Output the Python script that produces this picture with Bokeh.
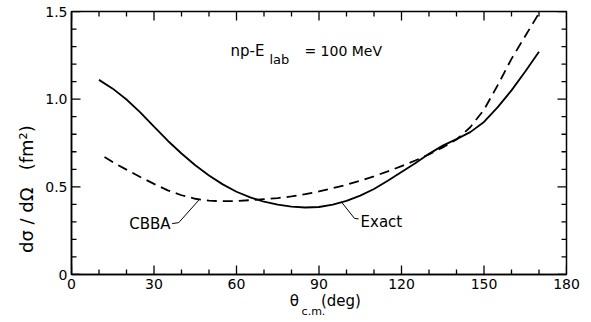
from bokeh.plotting import figure
from bokeh.models import Range1d, LinearAxis, FixedTicker, Label
from bokeh.embed import file_html
from bokeh.resources import INLINE

# ---- data ----
exact_theta = [10, 15, 20, 25, 30, 35, 40, 45, 50, 55, 60, 65, 70, 75, 80, 85, 90, 95, 100,
               105, 110, 115, 120, 125, 130, 135, 140, 145, 150, 155, 160, 165, 170]
exact_xs = [1.11, 1.06, 0.998, 0.925, 0.843, 0.763, 0.69, 0.623, 0.565, 0.514, 0.472, 0.44, 0.415,
            0.398, 0.387, 0.382, 0.385, 0.398, 0.42, 0.45, 0.488, 0.535, 0.585, 0.635, 0.688,
            0.735, 0.772, 0.812, 0.87, 0.955, 1.05, 1.158, 1.27]

cbba_theta = [12, 16, 20, 25, 30, 35, 40, 45, 50, 55, 60, 65, 70, 75, 80, 85, 90, 95, 100,
              105, 110, 115, 120, 125, 130, 135, 140, 145, 150, 155, 160, 165, 170]
cbba_xs = [0.67, 0.632, 0.598, 0.556, 0.517, 0.48, 0.452, 0.432, 0.421, 0.418, 0.419, 0.424, 0.43,
           0.436, 0.445, 0.458, 0.474, 0.492, 0.512, 0.535, 0.56, 0.588, 0.618, 0.65, 0.685, 0.725,
           0.77, 0.84, 0.94, 1.08, 1.23, 1.36, 1.49]

x_ticks = [0, 30, 60, 90, 120, 150, 180]
y_ticks = [0, 0.5, 1.0, 1.5]
y_tick_labels = ["0", "0.5", "1.0", "1.5"]

# leader lines for labels (annotation positions)
cbba_leader_x = [36.6, 39.0, 46.3]
cbba_leader_y = [0.29, 0.296, 0.424]
exact_leader_x = [98.1, 102.9, 104.4]
exact_leader_y = [0.415, 0.32, 0.317]

FONT = "DejaVu Sans"
X0, X1, Y0, Y1 = 0, 180, 0, 1.5
FW, FH = 495, 263  # frame size in px

p = figure(width=591, height=322, output_backend="svg", toolbar_location=None,
           x_range=Range1d(X0, X1), y_range=Range1d(Y0, Y1),
           min_border_left=71, min_border_right=25, min_border_top=11, min_border_bottom=48)
p.grid.visible = False
p.outline_line_color = "black"
p.outline_line_width = 1.5
p.background_fill_color = "white"
p.border_fill_color = "white"

p.xaxis.ticker = FixedTicker(ticks=x_ticks)
p.yaxis.ticker = FixedTicker(ticks=y_ticks)
p.yaxis.major_label_overrides = dict(zip(y_ticks, y_tick_labels))
for ax in (p.xaxis[0], p.yaxis[0]):
    ax.axis_line_color = "black"
    ax.axis_line_width = 1.5
    ax.major_tick_in = 0
    ax.major_tick_out = 0
    ax.minor_tick_in = 0
    ax.minor_tick_out = 0
    ax.major_tick_line_color = None
    ax.minor_tick_line_color = None
    ax.major_label_text_font = FONT
    ax.major_label_text_font_size = "14px"
    ax.major_label_text_color = "black"
    ax.major_label_standoff = 4
NB = "\u00a0"
p.yaxis.axis_label = "dσ" + NB + "/" + NB + "dΩ" + NB * 3 + "(fm²)" + "\u2800" * 7
p.yaxis.axis_label_text_font = FONT
p.yaxis.axis_label_text_font_size = "18px"
p.yaxis.axis_label_text_font_style = "normal"
p.yaxis.axis_label_text_color = "black"
p.yaxis.axis_label_standoff = 5

# x-axis title: theta and (deg) on one line, subscript c.m. slightly lower
title_pos = [81, 98]
title_txt = ["θ", "(deg)"]
sub_pos = [88]
sub_txt = ["c.m."]
t1 = LinearAxis(ticker=FixedTicker(ticks=title_pos),
                major_label_overrides=dict(zip(title_pos, title_txt)))
t2 = LinearAxis(ticker=FixedTicker(ticks=sub_pos),
                major_label_overrides=dict(zip(sub_pos, sub_txt)))
for ax, size, stand in ((t1, "15px", 0), (t2, "11px", -8)):
    ax.axis_line_color = None
    ax.major_tick_line_color = None
    ax.minor_tick_line_color = None
    ax.major_tick_in = 0
    ax.major_tick_out = 0
    ax.minor_tick_in = 0
    ax.minor_tick_out = 0
    ax.major_label_text_font = FONT
    ax.major_label_text_font_size = size
    ax.major_label_text_color = "black"
    ax.major_label_standoff = stand
p.add_layout(t1, "below")
p.add_layout(t2, "below")

# tick marks on all four sides, pointing inward
x_minor = [a + (b - a) * k / 3 for a, b in zip(x_ticks[:-1], x_ticks[1:]) for k in (1, 2)]
y_minor = [a + (b - a) * k / 5 for a, b in zip(y_ticks[:-1], y_ticks[1:]) for k in (1, 2, 3, 4)]
MAJ, MIN = 9, 5
dx = (X1 - X0) / FW
dy = (Y1 - Y0) / FH
xt_all = x_ticks + x_minor
xt_len = [MAJ] * len(x_ticks) + [MIN] * len(x_minor)
yt_all = y_ticks + y_minor
yt_len = [MAJ] * len(y_ticks) + [MIN] * len(y_minor)
# bottom and top: thin filled rectangles, centred half a tick inside the frame
p.rect(x=xt_all, y=[Y0 + L * dy / 2 for L in xt_len], width=1.3, height=[L for L in xt_len],
       width_units="screen", height_units="screen", fill_color="black", line_color=None)
p.rect(x=xt_all, y=[Y1 - L * dy / 2 for L in xt_len], width=1.3, height=[L for L in xt_len],
       width_units="screen", height_units="screen", fill_color="black", line_color=None)
# left and right: thin filled rectangles
p.rect(x=[X0 + L * dx / 2 for L in yt_len], y=yt_all, width=[L for L in yt_len], height=1.3,
       width_units="screen", height_units="screen", fill_color="black", line_color=None)
p.rect(x=[X1 - L * dx / 2 for L in yt_len], y=yt_all, width=[L for L in yt_len], height=1.3,
       width_units="screen", height_units="screen", fill_color="black", line_color=None)

# curves
p.line(exact_theta, exact_xs, line_color="black", line_width=1.8)
p.line(cbba_theta, cbba_xs, line_color="black", line_width=1.8, line_dash="10 6")
p.line(cbba_leader_x, cbba_leader_y, line_color="black", line_width=1)
p.line(exact_leader_x, exact_leader_y, line_color="black", line_width=1)

def lab(x, y, text, size="14px", align="left", baseline="middle", **kw):
    p.add_layout(Label(x=x, y=y, text=text, text_font=FONT, text_font_size=size,
                       text_align=align, text_baseline=baseline, text_color="black", **kw))

lab(36.0, 0.288, "CBBA", size="15px", align="right")
lab(105.1, 0.30, "Exact", size="15px")
lab(57.8, 1.275, "np-E", size="15px", baseline="alphabetic")
lab(72.0, 1.228, "lab", size="13px", baseline="alphabetic")
lab(84.7, 1.275, "= 100 MeV", size="14px", baseline="alphabetic")

open("out.html", "w").write(file_html(p, INLINE))
